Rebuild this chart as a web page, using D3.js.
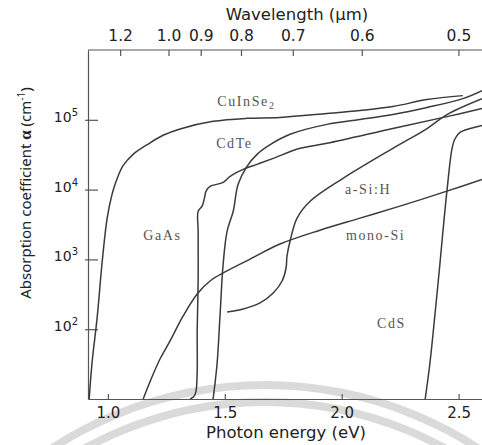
<!DOCTYPE html>
<html>
<head>
<meta charset="utf-8">
<script src="https://cdn.jsdelivr.net/npm/d3@7/dist/d3.min.js"></script>
<style>
  body { margin: 0; background: #fff; }
</style>
</head>
<body>
<div id="chart"></div>
<script>
// photon energy (eV), absorption coefficient (cm^-1)
const cuInSe2 = [[0.92, 10], [0.933, 35], [0.954, 145], [0.976, 950], [0.997, 3900], [1.018, 8600],
  [1.04, 14500], [1.065, 22000], [1.108, 32000], [1.168, 44000], [1.236, 60000], [1.309, 74000],
  [1.45, 95000], [1.595, 105000], [1.736, 108000], [1.937, 123000], [2.078, 136000],
  [2.219, 155000], [2.365, 195000], [2.518, 222000]];

const cdTe = [[1.45, 10], [1.467, 32], [1.48, 165], [1.493, 860], [1.51, 2540], [1.536, 4900],
  [1.557, 11900], [1.595, 21500], [1.638, 32000], [1.694, 44000], [1.779, 62000], [1.937, 86000],
  [2.078, 101000], [2.219, 119000], [2.365, 150000], [2.518, 201000], [2.6, 262000]];

const gaAs = [[1.352, 10], [1.369, 11], [1.377, 13], [1.382, 25], [1.382, 95], [1.386, 490],
  [1.386, 2540], [1.386, 4900], [1.403, 5800], [1.412, 7300], [1.42, 9500], [1.437, 11100],
  [1.493, 12700], [1.523, 15500], [1.579, 19500], [1.638, 23000], [1.707, 28000], [1.822, 39000],
  [1.937, 46000], [2.219, 75000], [2.45, 111000], [2.6, 145000]];

const aSiH = [[1.51, 177], [1.579, 195], [1.651, 238], [1.707, 330], [1.745, 490], [1.762, 750],
  [1.766, 1110], [1.779, 1820], [1.809, 3900], [1.865, 6800], [2.006, 14500], [2.219, 39000],
  [2.365, 75000], [2.45, 119000], [2.6, 201000]];

const monoSi = [[1.151, 10], [1.181, 18], [1.224, 38], [1.266, 68], [1.322, 155], [1.382, 320],
  [1.437, 490], [1.493, 640], [1.608, 1010], [1.736, 1660], [1.907, 2620], [2.078, 3900],
  [2.249, 5800], [2.45, 9500], [2.6, 14000]];

const cdS = [[2.357, 10], [2.377, 32], [2.399, 165], [2.42, 860], [2.433, 2540], [2.45, 9500],
  [2.472, 39000], [2.485, 54000], [2.506, 66000], [2.549, 75000], [2.6, 83000]];

const series = [cuInSe2, cdTe, gaAs, aSiH, monoSi, cdS];

// curve labels, anchored in data units (eV, cm^-1)
const labelNames = ["CuInSe", "CdTe", "GaAs", "a-Si:H", "mono-Si", "CdS"];
const labelE = [1.468, 1.463, 1.151, 2.014, 2.018, 2.151];
const labelAlpha = [160000, 39000, 1890, 8600, 1890, 104];

const energyTicks = [1.0, 1.5, 2.0, 2.5];
const wavelengthTicks = [1.2, 1.0, 0.9, 0.8, 0.7, 0.6, 0.5];
const alphaTicks = [1e2, 1e3, 1e4, 1e5];

const W = 482, H = 445;
const mLeft = 88, mTop = 50, mBottom = 399, mRight = 482;

const svg = d3.select("#chart").append("svg")
  .attr("width", W)
  .attr("height", H);

// faint watermark arcs behind the figure
const arc = d3.arc().startAngle(-Math.PI / 2).endAngle(Math.PI / 2);
[390, 373].forEach(function(r) {
  svg.append("path")
    .attr("transform", "translate(265,775)")
    .attr("d", arc.innerRadius(r - 4).outerRadius(r + 4)())
    .attr("fill", "#dadada");
});

const x = d3.scaleLinear().domain([0.915, 2.6]).range([mLeft, mRight]);
const y = d3.scaleLog().domain([10, 1e6]).range([mBottom, mTop]);

const axisColor = "#555";
const sans = "'DejaVu Sans', Verdana, sans-serif";
const serif = "'Liberation Serif', 'Times New Roman', serif";

// bottom axis
const xAxis = d3.axisBottom(x)
  .tickValues(energyTicks)
  .tickFormat(d3.format(".1f"))
  .tickSizeInner(-5)
  .tickSizeOuter(0)
  .tickPadding(8);

const gx = svg.append("g")
  .attr("transform", "translate(0," + mBottom + ")")
  .call(xAxis);
gx.selectAll("path, line").attr("stroke", axisColor).attr("stroke-width", 1.2);
gx.selectAll("text").attr("font-family", sans).attr("font-size", 15).attr("fill", "#222");

// left axis
const yAxis = d3.axisLeft(y)
  .tickValues(alphaTicks)
  .tickSizeInner(-10)
  .tickSizeOuter(0)
  .tickFormat("");

const gy = svg.append("g")
  .attr("transform", "translate(" + mLeft + ",0)")
  .call(yAxis);
gy.selectAll("path, line").attr("stroke", axisColor).attr("stroke-width", 1.2);
gy.selectAll(".tick line").attr("x1", -3);

const yLab = svg.append("g").selectAll("text")
  .data(alphaTicks)
  .join("text")
  .attr("x", 78)
  .attr("y", function(d) { return y(d) + 2; })
  .attr("text-anchor", "end")
  .attr("font-family", sans)
  .attr("font-size", 14)
  .attr("fill", "#222");
yLab.append("tspan").text("10");
yLab.append("tspan")
  .attr("font-size", 10)
  .attr("dy", -6)
  .text(function(d) { return Math.round(Math.log10(d)); });

// top frame line and wavelength axis
svg.append("line")
  .attr("x1", mLeft).attr("x2", mRight)
  .attr("y1", mTop).attr("y2", mTop)
  .attr("stroke", axisColor).attr("stroke-width", 1.2);

const hc = 1.24; // eV * um
const xTop = function(lam) { return x(hc / lam) + 5; };

svg.append("g").selectAll("line")
  .data(wavelengthTicks)
  .join("line")
  .attr("x1", xTop).attr("x2", xTop)
  .attr("y1", mTop).attr("y2", mTop + 6)
  .attr("stroke", axisColor).attr("stroke-width", 1.2);

svg.append("g").selectAll("text")
  .data(wavelengthTicks)
  .join("text")
  .attr("x", xTop)
  .attr("y", 41)
  .attr("text-anchor", "middle")
  .attr("font-family", sans)
  .attr("font-size", 15.5)
  .attr("fill", "#222")
  .text(function(d) { return d.toFixed(1); });

// axis titles
svg.append("text")
  .attr("x", 297).attr("y", 20)
  .attr("text-anchor", "middle")
  .attr("font-family", sans)
  .attr("font-size", 16.5)
  .attr("fill", "#222")
  .text("Wavelength (\u03bcm)");

svg.append("text")
  .attr("x", 286).attr("y", 438)
  .attr("text-anchor", "middle")
  .attr("font-family", sans)
  .attr("font-size", 16.5)
  .attr("fill", "#222")
  .text("Photon energy (eV)");

const yTitle = svg.append("text")
  .attr("transform", "translate(31,193) rotate(-90)")
  .attr("text-anchor", "middle")
  .attr("font-family", "'Noto Sans', sans-serif")
  .attr("font-size", 15)
  .attr("fill", "#222");
yTitle.append("tspan").text("Absorption coefficient ");
yTitle.append("tspan")
  .attr("font-family", serif)
  .attr("font-weight", "bold")
  .attr("font-size", 17)
  .text("\u03b1");
yTitle.append("tspan").text(" (cm");
yTitle.append("tspan").attr("font-size", 10).attr("dy", -6).text("-1");
yTitle.append("tspan").attr("dy", 6).text(")");

// curves
svg.append("clipPath").attr("id", "plot")
  .append("rect")
  .attr("x", mLeft).attr("y", mTop)
  .attr("width", mRight - mLeft).attr("height", mBottom - mTop);

const line = d3.line()
  .x(function(d) { return x(d[0]); })
  .y(function(d) { return y(d[1]); })
  .curve(d3.curveCatmullRom.alpha(0.5));

svg.append("g")
  .attr("clip-path", "url(#plot)")
  .selectAll("path")
  .data(series)
  .join("path")
  .attr("d", line)
  .attr("fill", "none")
  .attr("stroke", "#3a3a3a")
  .attr("stroke-width", 1.5)
  .attr("stroke-linejoin", "round");

// curve labels
const labels = svg.append("g").selectAll("text")
  .data(labelNames)
  .join("text")
  .attr("x", function(d, i) { return x(labelE[i]); })
  .attr("y", function(d, i) { return y(labelAlpha[i]); })
  .attr("font-family", serif)
  .attr("font-size", 14)
  .attr("letter-spacing", 1.6)
  .attr("fill", "#555")
  .text(function(d) { return d; });

labels.filter(function(d) { return d === "CuInSe"; })
  .append("tspan")
  .attr("font-size", 10)
  .attr("dy", 3)
  .text("2");
</script>
</body>
</html>
